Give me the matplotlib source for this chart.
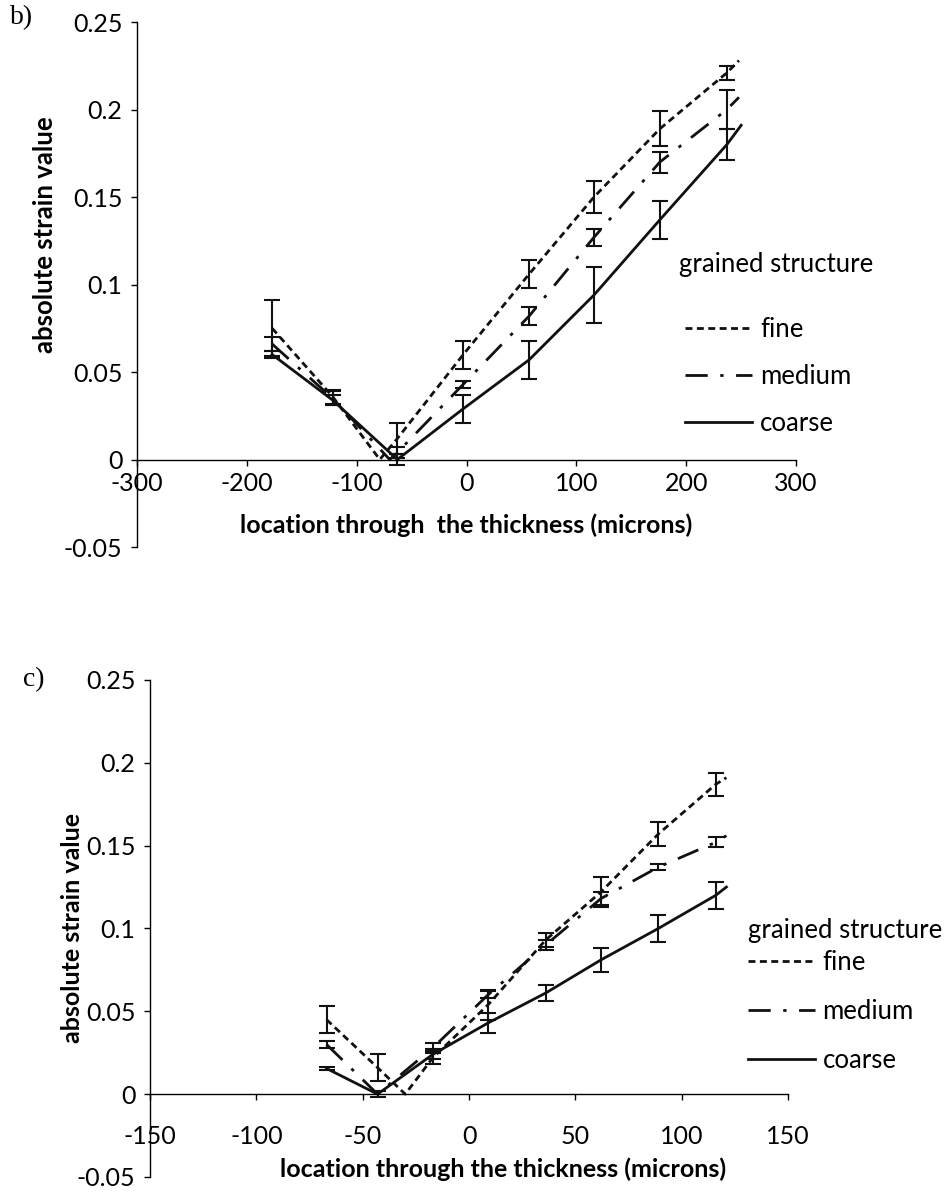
import matplotlib
matplotlib.use("Agg")
import matplotlib.pyplot as plt
import numpy as np

plt.rcParams['font.family'] = ['Lato', 'DejaVu Sans']

# ---- panel b) data (location in microns, absolute strain) ----
b_fine_x = [-177, -122, -79, -63, -3, 57, 116, 176, 237, 248]
b_fine_y = [0.075, 0.036, 0.0, 0.012, 0.060, 0.106, 0.150, 0.189, 0.221, 0.228]
b_fine_err = [0.016, 0.004, 0, 0.009, 0.008, 0.008, 0.009, 0.010, 0.004, 0]

b_med_x = [-177, -122, -70, -63, -3, 57, 116, 176, 237, 248]
b_med_y = [0.066, 0.035, 0.0, 0.004, 0.043, 0.082, 0.127, 0.170, 0.200, 0.207]
b_med_err = [0.004, 0.004, 0, 0.003, 0.002, 0.005, 0.005, 0.006, 0.011, 0]

b_coarse_x = [-177, -122, -63, -3, 57, 116, 176, 237, 250]
b_coarse_y = [0.060, 0.034, 0.0, 0.029, 0.057, 0.094, 0.137, 0.180, 0.191]
b_coarse_err = [0.002, 0.003, 0.003, 0.008, 0.011, 0.016, 0.011, 0.009, 0]

# ---- panel c) data ----
c_fine_x = [-67, -43, -30, -17, 9, 36, 62, 89, 116, 121]
c_fine_y = [0.045, 0.016, 0.0, 0.022, 0.054, 0.093, 0.122, 0.157, 0.187, 0.191]
c_fine_err = [0.008, 0.008, 0, 0.004, 0.009, 0.004, 0.009, 0.007, 0.007, 0]

c_med_x = [-67, -43, -17, 9, 36, 62, 89, 116, 121]
c_med_y = [0.030, 0.0, 0.028, 0.060, 0.090, 0.118, 0.137, 0.152, 0.156]
c_med_err = [0.002, 0, 0.003, 0.002, 0.003, 0.004, 0.002, 0.003, 0]

c_coarse_x = [-67, -43, -17, 9, 36, 62, 89, 116, 121]
c_coarse_y = [0.0155, 0.0, 0.024, 0.043, 0.061, 0.081, 0.100, 0.120, 0.125]
c_coarse_err = [0.001, 0.002, 0.003, 0.006, 0.005, 0.007, 0.008, 0.008, 0]

labels = ['fine', 'medium', 'coarse']
dash_styles = [(0, (2.5, 1.6)), (0, (8, 4.5, 1.2, 4.5)), '-']
y_ticks = [-0.05, 0, 0.05, 0.1, 0.15, 0.2, 0.25]
y_ticklabels = ['-0.05', '0', '0.05', '0.1', '0.15', '0.2', '0.25']
xlabel_text = 'location through  the thickness (microns)'
xlabel_text_c = 'location through the thickness (microns)'
ylabel_text = 'absolute strain value'

fig = plt.figure(figsize=(9.51, 11.92), dpi=100)


def draw_series(ax, xs, ys, errs):
    for x, y, e, ls, lab in zip(xs, ys, errs, dash_styles, labels):
        x = np.array(x)
        y = np.array(y)
        e = np.array(e)
        ax.plot(x, y, color='#111111', lw=2.0, linestyle=ls, label=lab)
        m = e > 0
        ax.errorbar(x[m], y[m], yerr=e[m], fmt='none', ecolor='#111111',
                    elinewidth=1.5, capsize=5.5, capthick=1.5)


def style_axes(ax, xlim, xticks, pad):
    ax.set_xlim(*xlim)
    ax.set_ylim(-0.05, 0.25)
    ax.set_xticks(xticks)
    ax.set_xticklabels([str(t) for t in xticks])
    ax.set_yticks(y_ticks)
    ax.set_yticklabels(y_ticklabels)
    ax.spines['top'].set_visible(False)
    ax.spines['right'].set_visible(False)
    ax.spines['bottom'].set_position(('data', 0))
    ax.spines['left'].set_linewidth(1.0)
    ax.spines['bottom'].set_linewidth(1.0)
    ax.tick_params(axis='both', direction='out', length=4.5, width=1.0,
                   labelsize=18)
    ax.tick_params(axis='y', pad=6)
    ax.tick_params(axis='x', pad=pad)


# panel b
ax1 = fig.add_axes([0.1441, 0.5411, 0.693, 0.4404])
draw_series(ax1, [b_fine_x, b_med_x, b_coarse_x],
            [b_fine_y, b_med_y, b_coarse_y],
            [b_fine_err, b_med_err, b_coarse_err])
style_axes(ax1, (-300, 300), [-300, -200, -100, 0, 100, 200, 300], 4.5)
ax1.set_xlabel(xlabel_text, fontsize=18, fontweight='bold', va='center')
ax1.xaxis.set_label_coords(0.5, 0.042)
ax1.set_ylabel(ylabel_text, fontsize=18.5, fontweight='bold', va='center')
ax1.yaxis.set_label_coords(-0.14, 0.594)
ax1.text(0.823, 0.538, 'grained structure', transform=ax1.transAxes,
         fontsize=18.5, va='center', ha='left')
ax1.legend(frameon=False, loc='upper left', bbox_to_anchor=(0.832, 0.438),
           borderaxespad=0, borderpad=0, fontsize=18.5, handlelength=2.6,
           handletextpad=0.3, labelspacing=0.86)

# panel c
ax2 = fig.add_axes([0.1577, 0.0126, 0.671, 0.417])
draw_series(ax2, [c_fine_x, c_med_x, c_coarse_x],
            [c_fine_y, c_med_y, c_coarse_y],
            [c_fine_err, c_med_err, c_coarse_err])
style_axes(ax2, (-150, 150), [-150, -100, -50, 0, 50, 100, 150], 18)
ax2.set_xlabel(xlabel_text_c, fontsize=18, fontweight='bold', va='center')
ax2.xaxis.set_label_coords(0.553, 0.016)
ax2.set_ylabel(ylabel_text, fontsize=18, fontweight='bold', va='center')
ax2.yaxis.set_label_coords(-0.122, 0.5)
ax2.text(0.937, 0.496, 'grained structure', transform=ax2.transAxes,
         fontsize=18.5, va='center', ha='left')
ax2.legend(frameon=False, loc='upper left', bbox_to_anchor=(0.937, 0.457),
           borderaxespad=0, borderpad=0, fontsize=18.5, handlelength=2.6,
           handletextpad=0.3, labelspacing=0.93)

fig.text(10 / 951, 1 - 18 / 1192, 'b)', family='Liberation Serif',
         fontsize=20, va='center', ha='left')
fig.text(23 / 951, 1 - 680 / 1192, 'c)', family='Liberation Serif',
         fontsize=20, va='center', ha='left')

fig.savefig('out.png', dpi=100)
